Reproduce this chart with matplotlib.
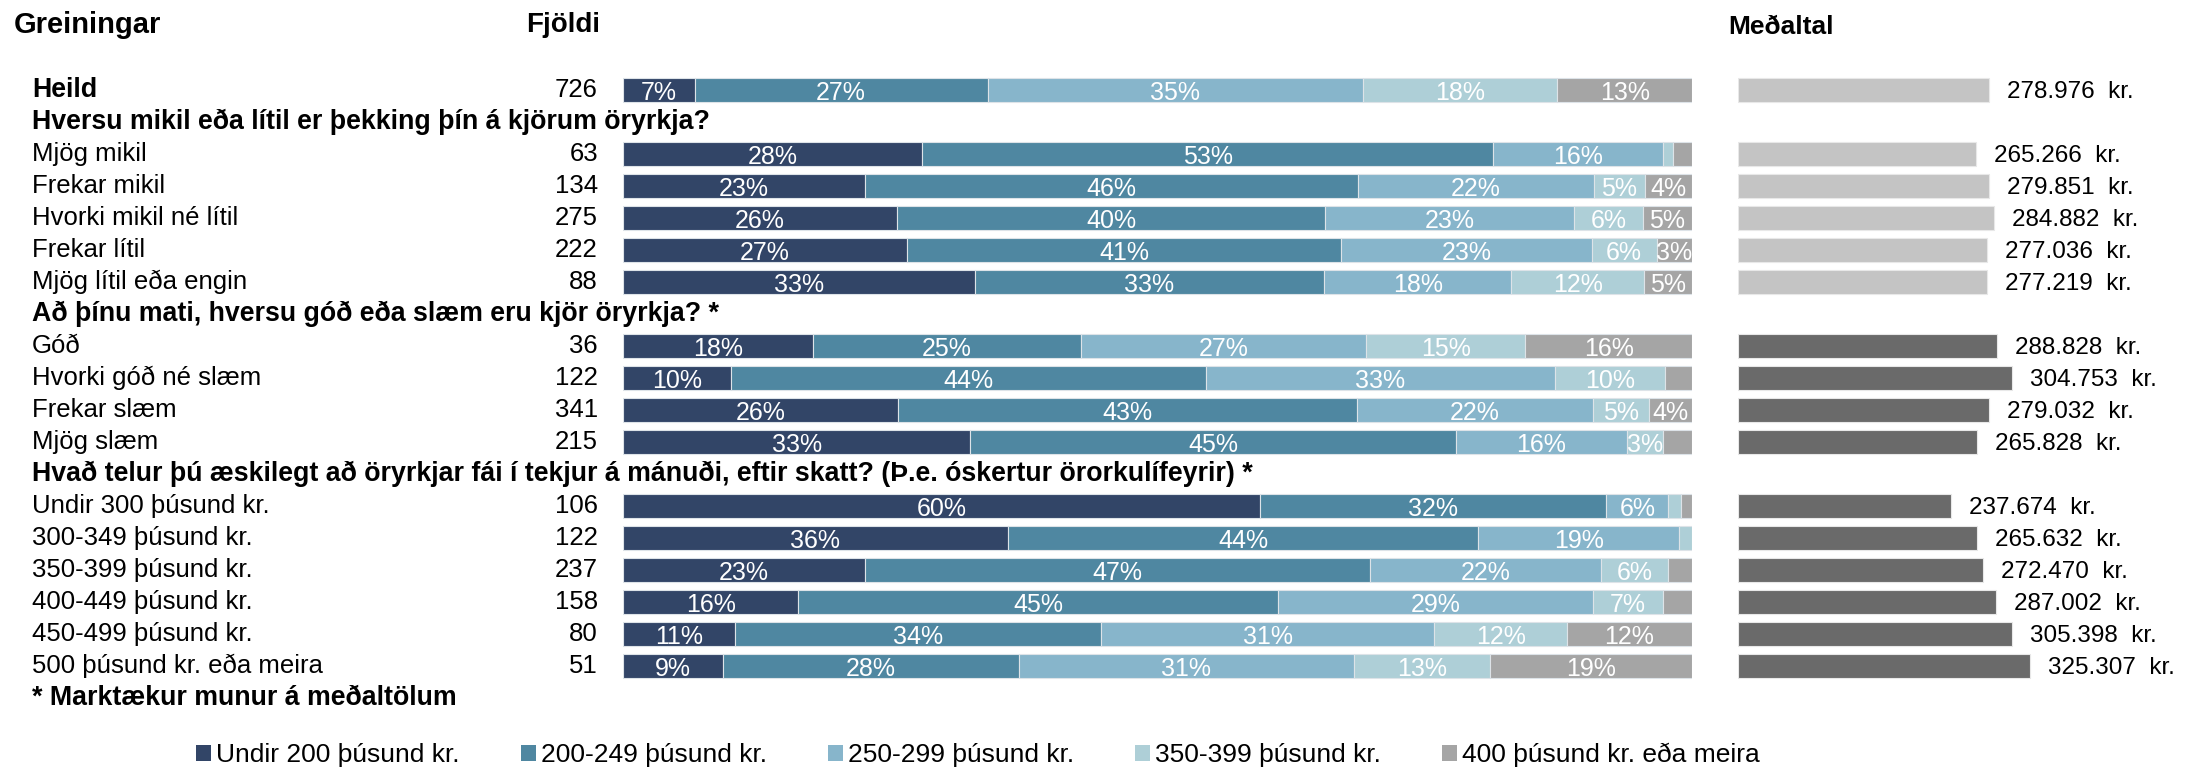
import numpy as np
import matplotlib.pyplot as plt
from matplotlib.patches import Patch
from matplotlib.transforms import blended_transform_factory

plt.rcParams['font.family'] = ['Liberation Sans', 'DejaVu Sans']

# --- data ---
questions = [
    'Hversu mikil eða lítil er þekking þín á kjörum öryrkja?',
    'Að þínu mati, hversu góð eða slæm eru kjör öryrkja? *',
    'Hvað telur þú æskilegt að öryrkjar fái í tekjur á mánuði, eftir skatt? '
    '(Þ.e. óskertur örorkulífeyrir) *',
]
group_sizes = [1, 5, 4, 6]          # Heild + the three questions
group_significant = [False, False, True, True]

categories = ['Heild', 'Mjög mikil', 'Frekar mikil', 'Hvorki mikil né lítil',
              'Frekar lítil', 'Mjög lítil eða engin', 'Góð', 'Hvorki góð né slæm',
              'Frekar slæm', 'Mjög slæm', 'Undir 300 þúsund kr.',
              '300-349 þúsund kr.', '350-399 þúsund kr.', '400-449 þúsund kr.',
              '450-499 þúsund kr.', '500 þúsund kr. eða meira']
counts = [726, 63, 134, 275, 222, 88, 36, 122, 341, 215, 106, 122, 237, 158, 80, 51]
means = [278976, 265266, 279851, 284882, 277036, 277219, 288828, 304753,
         279032, 265828, 237674, 265632, 272470, 287002, 305398, 325307]

series_names = ['Undir 200 þúsund kr.', '200-249 þúsund kr.', '250-299 þúsund kr.',
                '350-399 þúsund kr.', '400 þúsund kr. eða meira']
undir_200 = [6.7, 28.0, 22.6, 25.6, 26.6, 32.9, 17.8, 10.1, 25.7, 32.5, 59.6, 36.0, 22.6, 16.4, 10.5, 9.4]
b200_249 = [27.4, 53.4, 46.2, 40.1, 40.6, 32.7, 25.0, 44.4, 43.0, 45.4, 32.4, 44.0, 47.3, 44.9, 34.2, 27.6]
b250_299 = [35.1, 15.9, 22.0, 23.3, 23.4, 17.5, 26.7, 32.7, 22.0, 16.0, 5.8, 18.8, 21.6, 29.4, 31.2, 31.4]
b350_399 = [18.2, 0.9, 4.8, 6.4, 6.1, 12.4, 14.9, 10.3, 5.3, 3.4, 1.2, 1.2, 6.3, 6.6, 12.4, 12.7]
b400_plus = [12.6, 1.8, 4.4, 4.6, 3.3, 4.5, 15.6, 2.5, 4.0, 2.7, 1.0, 0.0, 2.2, 2.7, 11.7, 18.9]

colors = ['#324567', '#4f87a1', '#87b5cb', '#aecfd7', '#a5a5a5']
mean_colors = {False: '#c4c4c4', True: '#6a6a6a'}

# --- row positions (one row per data line / header) ---
y_rows, y_headers, row_sig = [], [], []
pos = 0
for g, size in enumerate(group_sizes):
    if g > 0:
        y_headers.append(pos)
        pos += 1
    for k in range(size):
        y_rows.append(pos)
        row_sig.append(group_significant[g])
        pos += 1
y_foot = pos
y_rows = np.array(y_rows)

W, H = 2187, 767
fig = plt.figure(figsize=(W / 100, H / 100), dpi=100)

pitch = 32.0
y0_px = 90.0
ylim = ((H - y0_px) / pitch, -y0_px / pitch)

ax = fig.add_axes([623 / W, 0, (1692 - 623) / W, 1])
axm = fig.add_axes([1738 / W, 0, (W - 1738) / W, 1])
for a in (ax, axm):
    a.set_ylim(*ylim)
    a.axis('off')
ax.set_xlim(0, 100)
axm.set_xlim(0, 500000)

fs = 18.5       # row labels, counts, percentages
fs_bold = 19.3  # question headers, footnote
fs_mean = 17.5

series = [undir_200, b200_249, b250_299, b350_399, b400_plus]
left = np.zeros(len(categories))
for vals, c in zip(series, colors):
    vals = np.array(vals)
    ax.barh(y_rows, vals, left=left, height=0.75, color=c,
            edgecolor='#dde3e8', linewidth=0.8)
    for yy, l, v in zip(y_rows, left, vals):
        if v >= 3:
            ax.text(l + v / 2, yy + 0.08, f'{int(v + 0.5)}%', ha='center', va='center',
                    color='white', fontsize=18)
    left += vals

# mean bars
axm.barh(y_rows, means, height=0.75,
         color=[mean_colors[s] for s in row_sig], edgecolor='#e8e8e8', linewidth=0.8)
for yy, m in zip(y_rows, means):
    axm.annotate(f'{m:,.0f}'.replace(',', '.') + '  kr.', (m, yy),
                 xytext=(13, -1.5), textcoords='offset points', va='center',
                 ha='left', fontsize=fs_mean)

# left texts
tr = blended_transform_factory(fig.transFigure, ax.transData)
for i, (yy, lab, n) in enumerate(zip(y_rows, categories, counts)):
    ax.text(32 / W, yy, lab, transform=tr, ha='left', va='center',
            fontsize=fs_bold if i == 0 else fs,
            fontweight='bold' if i == 0 else 'normal')
    ax.text(598 / W, yy, str(n), transform=tr, ha='right', va='center', fontsize=fs)
for yy, q in zip(y_headers, questions):
    ax.text(32 / W, yy, q, transform=tr, ha='left', va='center',
            fontsize=fs_bold, fontweight='bold')
ax.text(32 / W, y_foot, '* Marktækur munur á meðaltölum', transform=tr,
        ha='left', va='center', fontsize=fs_bold, fontweight='bold')

# column titles
fig.text(14 / W, 1 - 25 / H, 'Greiningar', ha='left', va='center',
         fontsize=21, fontweight='bold')
fig.text(600 / W, 1 - 25 / H, 'Fjöldi', ha='right', va='center',
         fontsize=20, fontweight='bold')
fig.text(1728 / W, 1 - 27 / H, 'Meðaltal', ha='left', va='center',
         fontsize=19, fontweight='bold')

handles = [Patch(facecolor=c, edgecolor='none') for c in colors]
fig.legend(handles, series_names, loc='center left',
           bbox_to_anchor=(196 / W, 1 - 755 / H),
           ncol=5, frameon=False, fontsize=19, handlelength=0.57, handleheight=0.57,
           handletextpad=0.2, columnspacing=2.3, borderpad=0, borderaxespad=0)

fig.savefig('out.png', dpi=100)
